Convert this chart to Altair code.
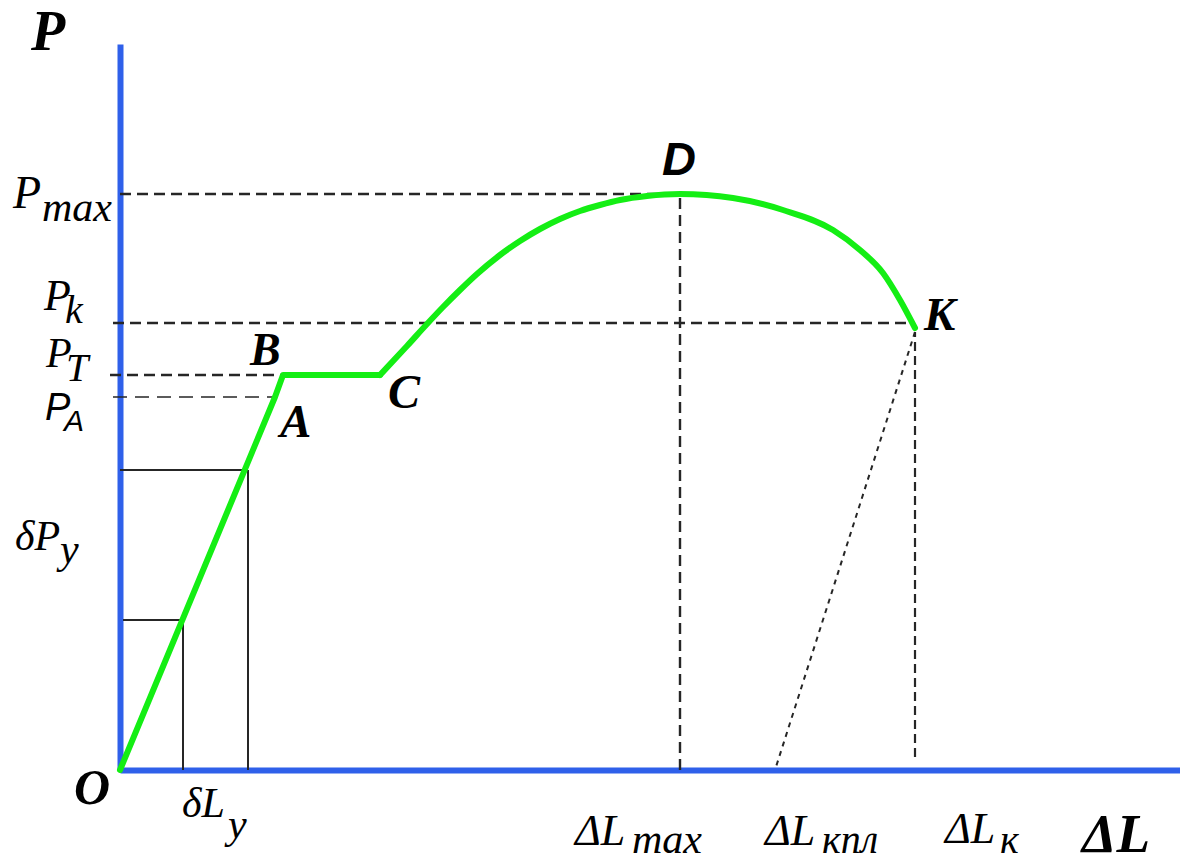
import altair as alt
import pandas as pd

# ---- values (units: offset from origin O) ----
# elastic + yield part O-A-B-C (straight segments)
lin_dl = [0, 155, 163, 260]
lin_p = [0, 373, 395, 395]
# hardening + necking part C-D-K (smooth curve)
crv_dl = [260, 287, 307, 323, 340, 357, 380, 400, 420, 440, 460, 480, 500, 527, 560, 613, 663, 713, 740, 763, 780, 795]
crv_p = [395, 424, 446, 463, 480, 496, 515, 529, 541, 551, 559, 565, 570, 574, 576, 572, 560, 540, 520, 497, 470, 442]

P_A, P_T, P_K, P_MAX = 373, 395, 447, 576
DL_MAX, DL_KPL, DL_K = 560, 655, 795
K_POINT = (795, 442)
DPY = [150, 300]   # elastic increments of load
DLY = [63, 128]    # elastic increments of elongation
X_END, Y_END = 1060, 726

BLUE = "#2f60ea"
GREEN = "#14ee14"
DASH = "#262626"

xs = alt.Scale(domain=[0, X_END], nice=False, zero=False)
ys = alt.Scale(domain=[0, Y_END], nice=False, zero=False)
AX = alt.Axis(title=None, ticks=False, labels=False, grid=False,
              domainColor=BLUE, domainWidth=6)


def X(f):
    return alt.X(f, type="quantitative", scale=xs, axis=AX)


def Y(f):
    return alt.Y(f, type="quantitative", scale=ys, axis=AX)


lin = pd.DataFrame({"dl": lin_dl, "p": lin_p, "i": list(range(len(lin_dl)))})
crv = pd.DataFrame({"dl": crv_dl, "p": crv_p, "i": list(range(len(crv_dl)))})

# dashed guide segments
seg_std = pd.DataFrame([
    {"x": 0, "y": P_MAX, "x2": DL_MAX, "y2": P_MAX},
    {"x": -7, "y": P_K, "x2": DL_K, "y2": P_K},
    {"x": -10, "y": P_T, "x2": 180, "y2": P_T},
    {"x": DL_MAX, "y": 0, "x2": DL_MAX, "y2": P_MAX},
])
seg_pa = pd.DataFrame([{"x": -7, "y": P_A, "x2": 152, "y2": P_A}])
seg_kv = pd.DataFrame([{"x": DL_K, "y": 13, "x2": DL_K, "y2": K_POINT[1] - 4}])
seg_diag = pd.DataFrame([{"x": K_POINT[0], "y": K_POINT[1] - 4, "x2": DL_KPL, "y2": 0}])
seg_solid = pd.DataFrame([
    {"x": 0, "y": DPY[1], "x2": DLY[1], "y2": DPY[1]},
    {"x": DLY[1], "y": DPY[1], "x2": DLY[1], "y2": 0},
    {"x": 3, "y": DPY[0], "x2": DLY[0] + 2, "y2": DPY[0]},
    {"x": DLY[0], "y": DPY[0], "x2": DLY[0], "y2": 0},
])


def rules(df, dash, width, color=DASH):
    kw = dict(color=color, strokeWidth=width)
    if dash:
        kw["strokeDash"] = dash
    return alt.Chart(df).mark_rule(**kw).encode(
        x=X("x"), y=Y("y"), x2=alt.X2("x2"), y2=alt.Y2("y2"))


# labels
lab_bold = pd.DataFrame([
    {"t": "P", "x": -89, "y": 720, "s": 56},
    {"t": "O", "x": -46, "y": -34, "s": 50},
    {"t": "B", "x": 130, "y": 405, "s": 46},
    {"t": "A", "x": 160, "y": 333, "s": 47},
    {"t": "C", "x": 268, "y": 362, "s": 48},
    {"t": "K", "x": 804, "y": 440, "s": 47},
    {"t": "ΔL", "x": 962, "y": -82, "s": 55},
])
lab_it = pd.DataFrame([
    {"t": "P", "x": -107, "y": 562, "s": 46},
    {"t": "max", "x": -78, "y": 549, "s": 42},
    {"t": "P", "x": -76, "y": 460, "s": 44},
    {"t": "k", "x": -55, "y": 447, "s": 40},
    {"t": "P", "x": -74, "y": 403, "s": 42},
    {"t": "T", "x": -54, "y": 389, "s": 40},
    {"t": "δP", "x": -105, "y": 220, "s": 42},
    {"t": "y", "x": -60, "y": 207, "s": 42},
    {"t": "δL", "x": 62, "y": -47, "s": 42},
    {"t": "y", "x": 108, "y": -68, "s": 42},
    {"t": "ΔL", "x": 455, "y": -75, "s": 44},
    {"t": "max", "x": 512, "y": -83, "s": 42},
    {"t": "ΔL", "x": 645, "y": -75, "s": 44},
    {"t": "кпл", "x": 702, "y": -83, "s": 40},
    {"t": "ΔL", "x": 825, "y": -73, "s": 44},
    {"t": "к", "x": 880, "y": -83, "s": 40},
])
lab_sans = pd.DataFrame([
    {"t": "P", "x": -75, "y": 350, "s": 38},
    {"t": "A", "x": -56, "y": 339, "s": 30},
])
lab_sans_bold = pd.DataFrame([
    {"t": "D", "x": 542, "y": 595, "s": 47},
])


def texts(df, font, weight):
    return alt.Chart(df).mark_text(
        font=font, fontStyle="italic", fontWeight=weight,
        align="left", baseline="alphabetic", color="black"
    ).encode(x=X("x"), y=Y("y"), text="t:N",
             size=alt.Size("s:Q", scale=None, legend=None))


line_lin = alt.Chart(lin).mark_line(
    color=GREEN, strokeWidth=6, strokeJoin="round", strokeCap="round"
).encode(x=X("dl"), y=Y("p"), order="i:Q")

line_crv = alt.Chart(crv).mark_line(
    color=GREEN, strokeWidth=6, strokeJoin="round", strokeCap="round",
    interpolate="monotone"
).encode(x=X("dl"), y=Y("p"), order="i:Q")

chart = alt.layer(
    rules(seg_std, [11, 6], 2.4),
    rules(seg_pa, [14, 8], 1.6),
    rules(seg_kv, [9, 5], 2.2),
    rules(seg_diag, [5, 5], 2),
    rules(seg_solid, None, 2),
    line_lin,
    line_crv,
    texts(lab_bold, "Liberation Serif", "bold"),
    texts(lab_it, "Liberation Serif", "normal"),
    texts(lab_sans, "Liberation Sans", "normal"),
    texts(lab_sans_bold, "Liberation Sans", "bold"),
).properties(
    width=X_END, height=Y_END,
    padding={"left": 112, "top": 36, "right": 0, "bottom": 85},
    autosize=alt.AutoSizeParams(type="none"),
).configure_view(stroke=None)

chart.save("out.html", embed_options={"renderer": "svg", "actions": False})
